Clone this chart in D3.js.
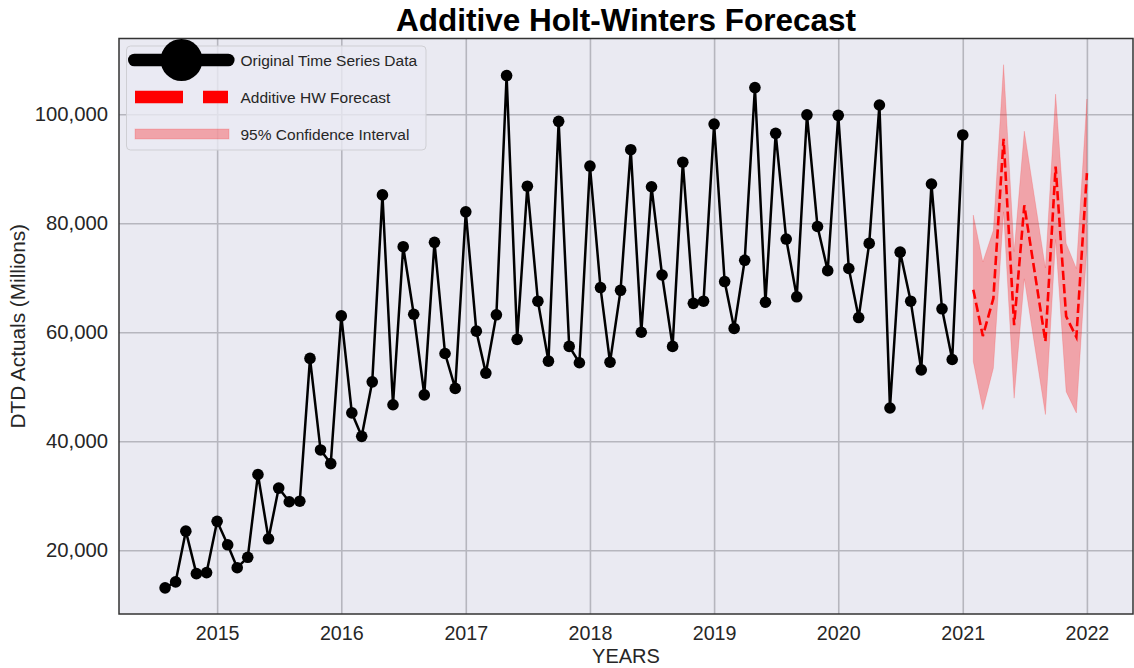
<!DOCTYPE html>
<html>
<head>
<meta charset="utf-8">
<script src="https://cdn.jsdelivr.net/npm/d3@7"></script>
<style>
  body { margin: 0; background: #ffffff; }
  svg { display: block; }
  text { font-family: "Liberation Sans", Arial, Helvetica, sans-serif; }
</style>
</head>
<body>
<svg id="chart" width="1134" height="668"></svg>
<script>
// Monthly DTD actuals (millions), Aug 2014 – Jan 2021
const actualStart = "2014-08-01";
const actualValues = [
  13100, 14200, 23500, 15700, 15900,
  25300, 21000, 16800, 18700, 33900, 22100, 31400, 28900, 29000, 55200, 38400, 35900,
  63000, 45200, 40900, 50900, 85200, 46700, 75700, 63300, 48500, 76500, 56100, 49700,
  82100, 60200, 52500, 63200, 107100, 58700, 86800, 65700, 54700, 98700, 57400, 54400,
  90500, 68200, 54500, 67700, 93500, 60000, 86700, 70500, 57400, 91200, 65300, 65700,
  98200, 69300, 60700, 73200, 104900, 65500, 96500, 77100, 66500, 99900, 79400, 71300,
  99800, 71700, 62700, 76300, 101700, 46100, 74700, 65700, 53100, 87200, 64300, 55000,
  96200
];

// Additive Holt-Winters forecast, Feb 2021 – Jan 2022, with 95% bounds
const forecastStart = "2021-02-01";
const forecastValues = [67800, 59300, 66200, 95500, 61300, 83300, 70800, 58300, 90400, 62900, 59100, 89200];
const ciLower =        [54600, 45800, 53400, 82100, 47900, 69800, 57300, 44900, 77000, 49100, 45200, 75600];
const ciUpper =        [81500, 72900, 78700, 109100, 74800, 96900, 84300, 71800, 103700, 76300, 71700, 102800];

const yearTicks = [2015, 2016, 2017, 2018, 2019, 2020, 2021, 2022];
const valueTicks = [20000, 40000, 60000, 80000, 100000];

const chartTitle = "Additive Holt-Winters Forecast";
const xTitle = "YEARS";
const yTitle = "DTD Actuals (Millions)";
const legendLabels = ["Original Time Series Data", "Additive HW Forecast", "95% Confidence Interval"];

// ---------------------------------------------------------------
const W = 1134, H = 668;
const plot = { left: 119, right: 1133, top: 38.5, bottom: 614 };

const monthSeq = (start, n) => {
  const d0 = new Date(start + "T00:00:00Z");
  return d3.range(n).map(i => d3.utcMonth.offset(d0, i));
};

const actual = monthSeq(actualStart, actualValues.length).map((d, i) => ({ date: d, value: actualValues[i] }));
const forecast = monthSeq(forecastStart, forecastValues.length).map((d, i) => ({
  date: d, value: forecastValues[i], lo: ciLower[i], hi: ciUpper[i]
}));

// 5% padding around the data extent on both axes
const allDates = actual.map(d => d.date).concat(forecast.map(d => d.date));
const [t0, t1] = d3.extent(allDates);
const tPad = (t1 - t0) * 0.05;
const allVals = actualValues.concat(ciLower, ciUpper, forecastValues);
const [v0, v1] = d3.extent(allVals);
const vPad = (v1 - v0) * 0.05;

const x = d3.scaleUtc()
  .domain([new Date(+t0 - tPad), new Date(+t1 + tPad)])
  .range([plot.left, plot.right]);
const y = d3.scaleLinear()
  .domain([v0 - vPad, v1 + vPad])
  .range([plot.bottom, plot.top]);

const svg = d3.select("#chart");

svg.append("rect").attr("width", W).attr("height", H).attr("fill", "#ffffff");

// plot background
svg.append("rect")
  .attr("x", plot.left).attr("y", plot.top)
  .attr("width", plot.right - plot.left).attr("height", plot.bottom - plot.top)
  .attr("fill", "#EAEAF2");

const tickLabelColor = "#262626";
const gridColor = "#b6b6be";

// x axis: grid + year labels
const xAxis = d3.axisBottom(x)
  .tickValues(yearTicks.map(yr => new Date(Date.UTC(yr, 0, 1))))
  .tickFormat(d3.utcFormat("%Y"))
  .tickSize(-(plot.bottom - plot.top))
  .tickPadding(12);
const gx = svg.append("g")
  .attr("transform", `translate(0,${plot.bottom})`)
  .call(xAxis);
gx.select(".domain").remove();
gx.selectAll(".tick line").attr("stroke", gridColor).attr("stroke-width", 1.6);
gx.selectAll(".tick text")
  .attr("fill", tickLabelColor)
  .attr("font-size", 19.7)
  .attr("font-family", "Liberation Sans, Arial, sans-serif");

// y axis: grid + value labels
const yAxis = d3.axisLeft(y)
  .tickValues(valueTicks)
  .tickFormat(d3.format(","))
  .tickSize(-(plot.right - plot.left))
  .tickPadding(11);
const gy = svg.append("g")
  .attr("transform", `translate(${plot.left},0)`)
  .call(yAxis);
gy.select(".domain").remove();
gy.selectAll(".tick line").attr("stroke", gridColor).attr("stroke-width", 1.6);
gy.selectAll(".tick text")
  .attr("fill", tickLabelColor)
  .attr("font-size", 20.3)
  .attr("font-family", "Liberation Sans, Arial, sans-serif");

const body = svg.append("g");

// confidence band
body.append("path")
  .datum(forecast)
  .attr("d", d3.area()
    .x(d => x(d.date))
    .y0(d => y(d.lo))
    .y1(d => y(d.hi)))
  .attr("fill", "rgba(255,0,0,0.3)")
  .attr("stroke", "rgba(255,0,0,0.15)")
  .attr("stroke-width", 1);

// forecast line
body.append("path")
  .datum(forecast)
  .attr("d", d3.line().x(d => x(d.date)).y(d => y(d.value)))
  .attr("fill", "none")
  .attr("stroke", "#ff0000")
  .attr("stroke-width", 2.6)
  .attr("stroke-dasharray", "9.3 4");

// actuals line + markers
body.append("path")
  .datum(actual)
  .attr("d", d3.line().x(d => x(d.date)).y(d => y(d.value)))
  .attr("fill", "none")
  .attr("stroke", "#000000")
  .attr("stroke-width", 2.5)
  .attr("stroke-linejoin", "round");

body.selectAll("circle.pt")
  .data(actual)
  .join("circle")
  .attr("class", "pt")
  .attr("cx", d => x(d.date))
  .attr("cy", d => y(d.value))
  .attr("r", 5.8)
  .attr("fill", "#000000");

// frame
svg.append("rect")
  .attr("x", plot.left).attr("y", plot.top)
  .attr("width", plot.right - plot.left).attr("height", plot.bottom - plot.top)
  .attr("fill", "none")
  .attr("stroke", "#333333")
  .attr("stroke-width", 1.5);

// legend
const lg = svg.append("g");
lg.append("rect")
  .attr("x", 126.5).attr("y", 46)
  .attr("width", 299.5).attr("height", 104)
  .attr("rx", 4).attr("ry", 4)
  .attr("fill", "#EAEAF2").attr("fill-opacity", 0.8)
  .attr("stroke", "#cfcfd4").attr("stroke-width", 1);

const rowY = [60, 97, 134];
const textX = 240.5;

lg.append("line")
  .attr("x1", 128.3 + 6).attr("x2", 234.3 - 6)
  .attr("y1", rowY[0]).attr("y2", rowY[0])
  .attr("stroke", "#000").attr("stroke-width", 12.6)
  .attr("stroke-linecap", "round");
lg.append("circle")
  .attr("cx", 181.5).attr("cy", rowY[0]).attr("r", 21)
  .attr("fill", "#000");

lg.append("line")
  .attr("x1", 135).attr("x2", 228)
  .attr("y1", rowY[1]).attr("y2", rowY[1])
  .attr("stroke", "#ff0000").attr("stroke-width", 12.6)
  .attr("stroke-dasharray", "48 20");

lg.append("rect")
  .attr("x", 135).attr("y", rowY[2] - 5)
  .attr("width", 94).attr("height", 10)
  .attr("fill", "rgba(255,0,0,0.3)")
  .attr("stroke", "rgba(255,0,0,0.15)");

lg.selectAll("text.lab")
  .data(legendLabels)
  .join("text")
  .attr("class", "lab")
  .attr("x", textX)
  .attr("y", (d, i) => rowY[i])
  .attr("dy", "0.36em")
  .attr("font-size", 15.5)
  .attr("fill", "#262626")
  .text(d => d);

// titles
svg.append("text")
  .attr("x", (plot.left + plot.right) / 2)
  .attr("y", 31)
  .attr("text-anchor", "middle")
  .attr("font-size", 31.5)
  .attr("font-weight", "bold")
  .attr("fill", "#000")
  .text(chartTitle);

svg.append("text")
  .attr("x", (plot.left + plot.right) / 2)
  .attr("y", 662.5)
  .attr("text-anchor", "middle")
  .attr("font-size", 20)
  .attr("fill", tickLabelColor)
  .text(xTitle);

svg.append("text")
  .attr("transform", `translate(24.5,${(plot.top + plot.bottom) / 2}) rotate(-90)`)
  .attr("text-anchor", "middle")
  .attr("font-size", 20.8)
  .attr("fill", tickLabelColor)
  .text(yTitle);
</script>
</body>
</html>
